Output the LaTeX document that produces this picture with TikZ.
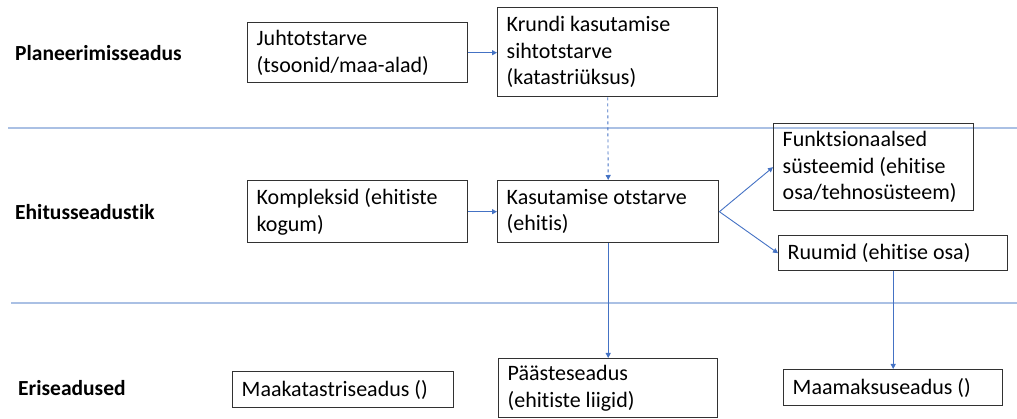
\documentclass[tikz,border=0pt]{standalone}
\usepackage{fontspec}
\setmainfont{Carlito}[Ligatures={NoCommon}]
\usetikzlibrary{arrows.meta}
\definecolor{lineblue}{RGB}{68,114,196}
\definecolor{sepblue}{RGB}{170,192,228}
\definecolor{boxgray}{RGB}{50,50,50}
\begin{document}
\begin{tikzpicture}[x=1pt,y=-1pt,
  every node/.style={font=\fontsize{22}{26.5}\selectfont},
  box/.style={draw=boxgray,line width=1.4pt,anchor=north west,inner xsep=9pt,inner ysep=0pt,align=flush left},
  lawlabel/.style={anchor=west,font=\fontsize{21.5}{26}\selectfont\bfseries,inner sep=0pt},
  conn/.style={draw=lineblue,line width=0.9pt,-{Triangle[length=5pt,width=5pt]}},
  sep/.style={draw=sepblue,line width=1.5pt}]
\useasboundingbox (0,0) rectangle (1017,419);
% separators
\coordinate (s1a) at (8,128);
\coordinate (s1b) at (1017,128);
\coordinate (s2a) at (11,303);
\coordinate (s2b) at (1017,303);
\draw[sep] (s1a) -- (s1b);
\draw[sep] (s2a) -- (s2b);
% labels
\node[lawlabel] (l1) at (15,53) {Planeerimisseadus};
\node[lawlabel] (l2) at (15,212) {Ehitusseadustik};
\node[lawlabel] (l3) at (18,388) {Eriseadused};
% boxes
\node[box,text width=202pt,minimum height=60pt] (juht) at (247,22) {Juhtotstarve\\(tsoonid/maa-alad)};
\node[box,text width=202pt,minimum height=89pt] (krundi) at (497,7) {Krundi kasutamise\\sihtotstarve\\(katastriüksus)};
\node[box,text width=202pt,minimum height=62pt] (komp) at (247,180) {Kompleksid (ehitiste\\kogum)};
\node[box,text width=203pt,minimum height=62pt] (kasut) at (497,180) {Kasutamise otstarve\\(ehitis)};
\node[box,text width=182pt,minimum height=87pt] (funk) at (773,123) {Funktsionaalsed\\süsteemid (ehitise\\osa/tehnosüsteem)};
\node[box,text width=211pt,minimum height=35pt] (ruum) at (778,235) {Ruumid (ehitise osa)};
\node[box,text width=203pt,minimum height=36pt] (maak) at (232,371) {Maakatastriseadus ()};
\node[box,text width=201pt,minimum height=59pt] (paaste) at (498,358) {Päästeseadus\\(ehitiste liigid)};
\node[box,text width=201pt,minimum height=36pt] (maam) at (783,369) {Maamaksuseadus ()};
% connectors
\draw[conn] (juht.east) -- (juht.east -| krundi.west);
\draw[conn,dashed] (krundi.south) -- (kasut.north);
\draw[conn] (komp.east) -- (kasut.west);
\draw[conn] (kasut.east) -- (funk.west);
\draw[conn] (kasut.east) -- (ruum.west);
\draw[conn] (kasut.south) -- (paaste.north);
\draw[conn] (ruum.south) -- (maam.north);
\end{tikzpicture}
\end{document}
